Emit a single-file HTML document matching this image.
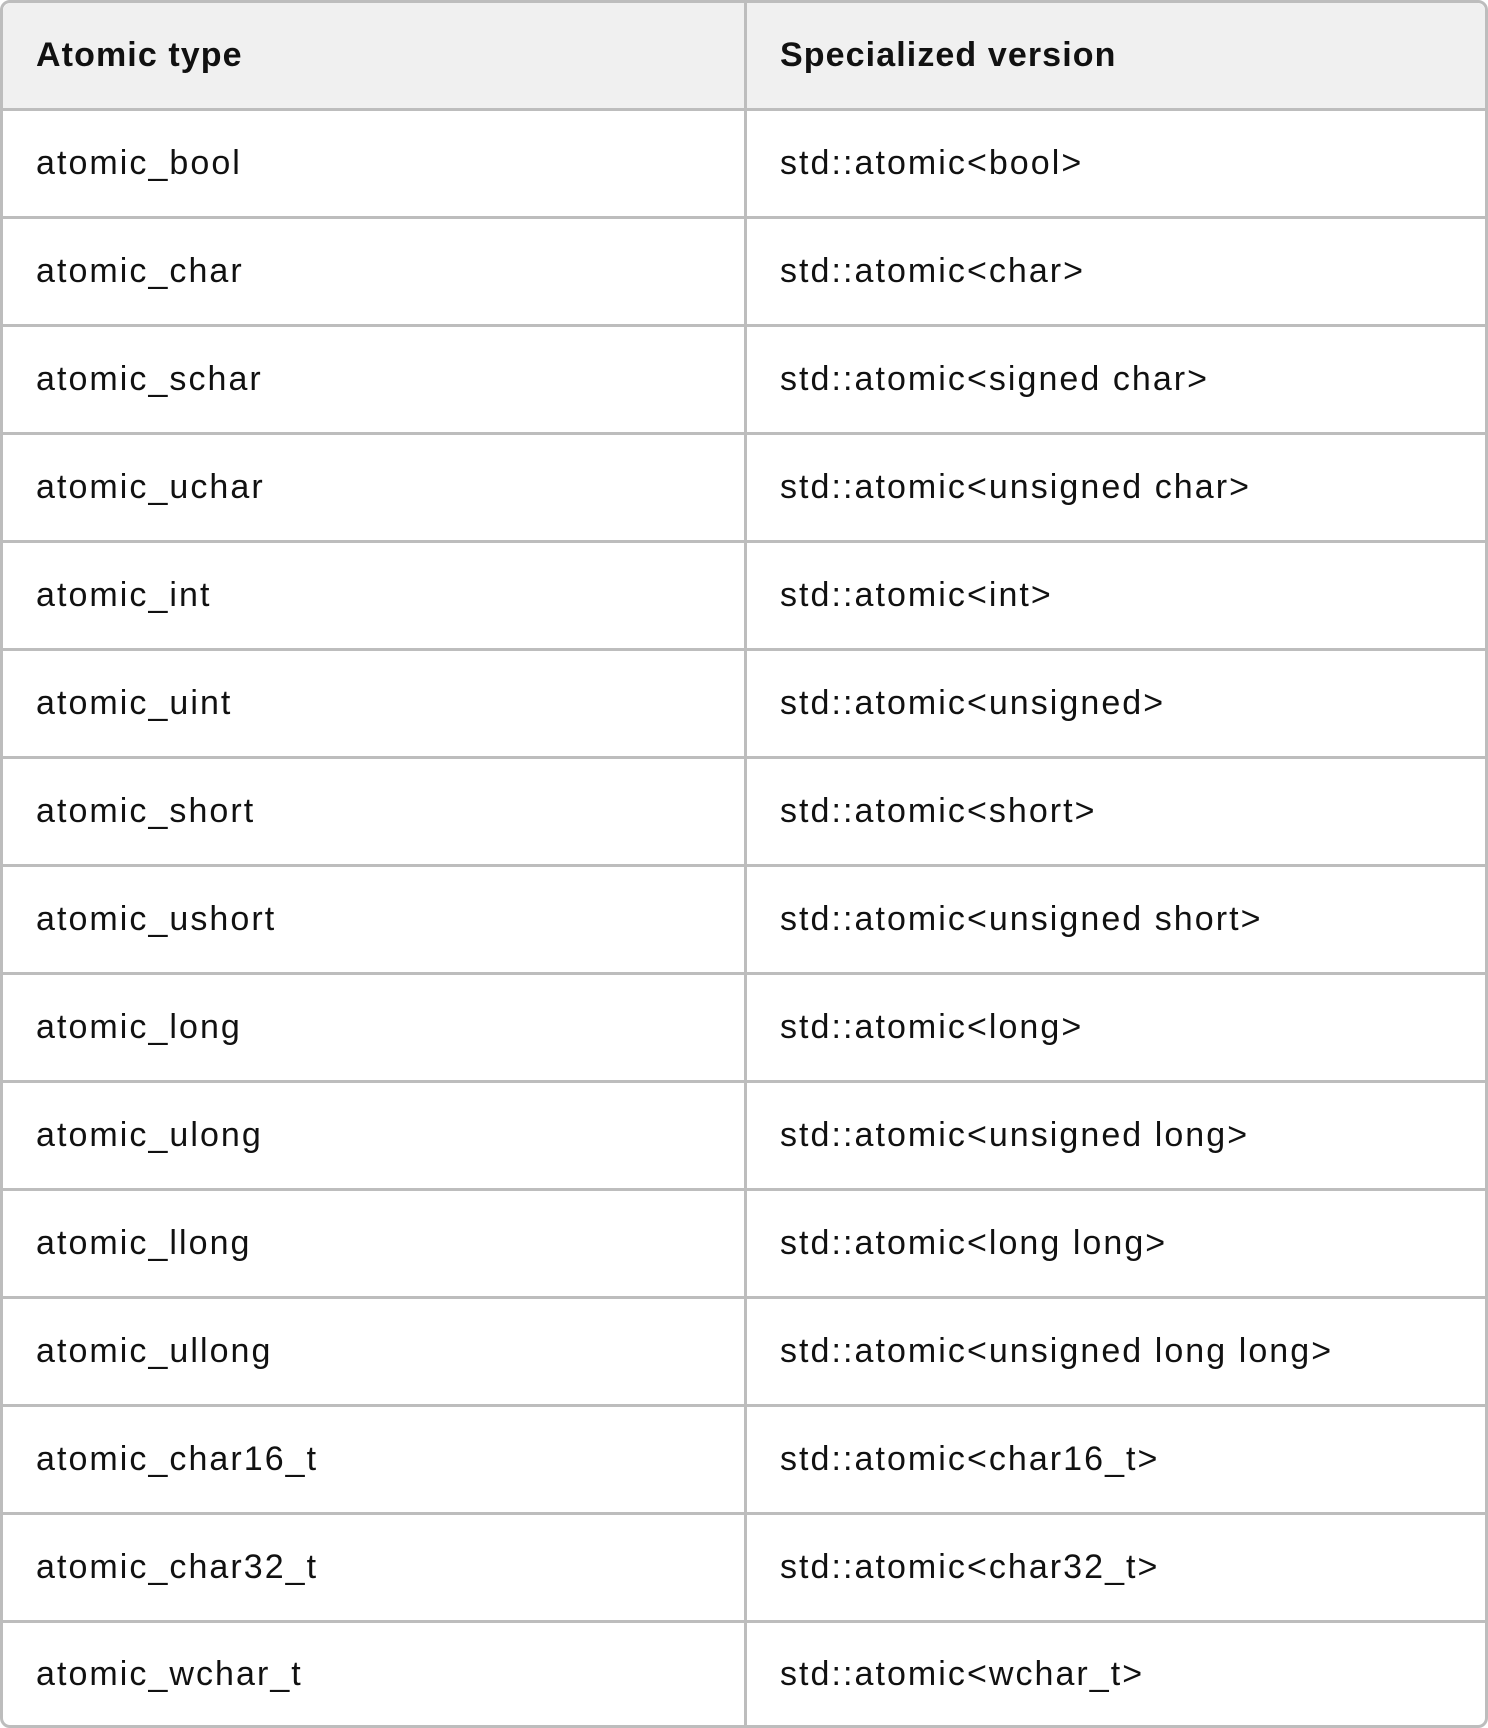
<!DOCTYPE html>
<html><head><style>
html,body{margin:0;padding:0;background:#fff;}
body{width:1488px;height:1728px;overflow:hidden;}
table{position:absolute;left:0;top:0;width:1488px;border-collapse:separate;border-spacing:0;border:3px solid #bdbdbd;border-radius:10px;box-sizing:border-box;font-family:"Liberation Sans",sans-serif;font-size:34px;letter-spacing:2.05px;color:#111;}
td,th{text-align:left;padding:0 0 0 33px;border-bottom:3px solid #bdbdbd;height:108px;box-sizing:border-box;font-weight:normal;}
th{font-weight:bold;background:#f0f0f0;height:108px;letter-spacing:1.1px;}
tr:last-child td{border-bottom:none;height:102px;}
td:first-child,th:first-child{width:744px;border-right:3px solid #bdbdbd;}
th:first-child{border-top-left-radius:8px;}
th:last-child{border-top-right-radius:8px;}
</style></head><body>
<table>
<tr><th>Atomic type</th><th>Specialized version</th></tr>
<tr><td>atomic_bool</td><td>std::atomic&lt;bool&gt;</td></tr>
<tr><td>atomic_char</td><td>std::atomic&lt;char&gt;</td></tr>
<tr><td>atomic_schar</td><td>std::atomic&lt;signed char&gt;</td></tr>
<tr><td>atomic_uchar</td><td>std::atomic&lt;unsigned char&gt;</td></tr>
<tr><td>atomic_int</td><td>std::atomic&lt;int&gt;</td></tr>
<tr><td>atomic_uint</td><td>std::atomic&lt;unsigned&gt;</td></tr>
<tr><td>atomic_short</td><td>std::atomic&lt;short&gt;</td></tr>
<tr><td>atomic_ushort</td><td>std::atomic&lt;unsigned short&gt;</td></tr>
<tr><td>atomic_long</td><td>std::atomic&lt;long&gt;</td></tr>
<tr><td>atomic_ulong</td><td>std::atomic&lt;unsigned long&gt;</td></tr>
<tr><td>atomic_llong</td><td>std::atomic&lt;long long&gt;</td></tr>
<tr><td>atomic_ullong</td><td>std::atomic&lt;unsigned long long&gt;</td></tr>
<tr><td>atomic_char16_t</td><td>std::atomic&lt;char16_t&gt;</td></tr>
<tr><td>atomic_char32_t</td><td>std::atomic&lt;char32_t&gt;</td></tr>
<tr><td>atomic_wchar_t</td><td>std::atomic&lt;wchar_t&gt;</td></tr>
</table>
</body></html>
